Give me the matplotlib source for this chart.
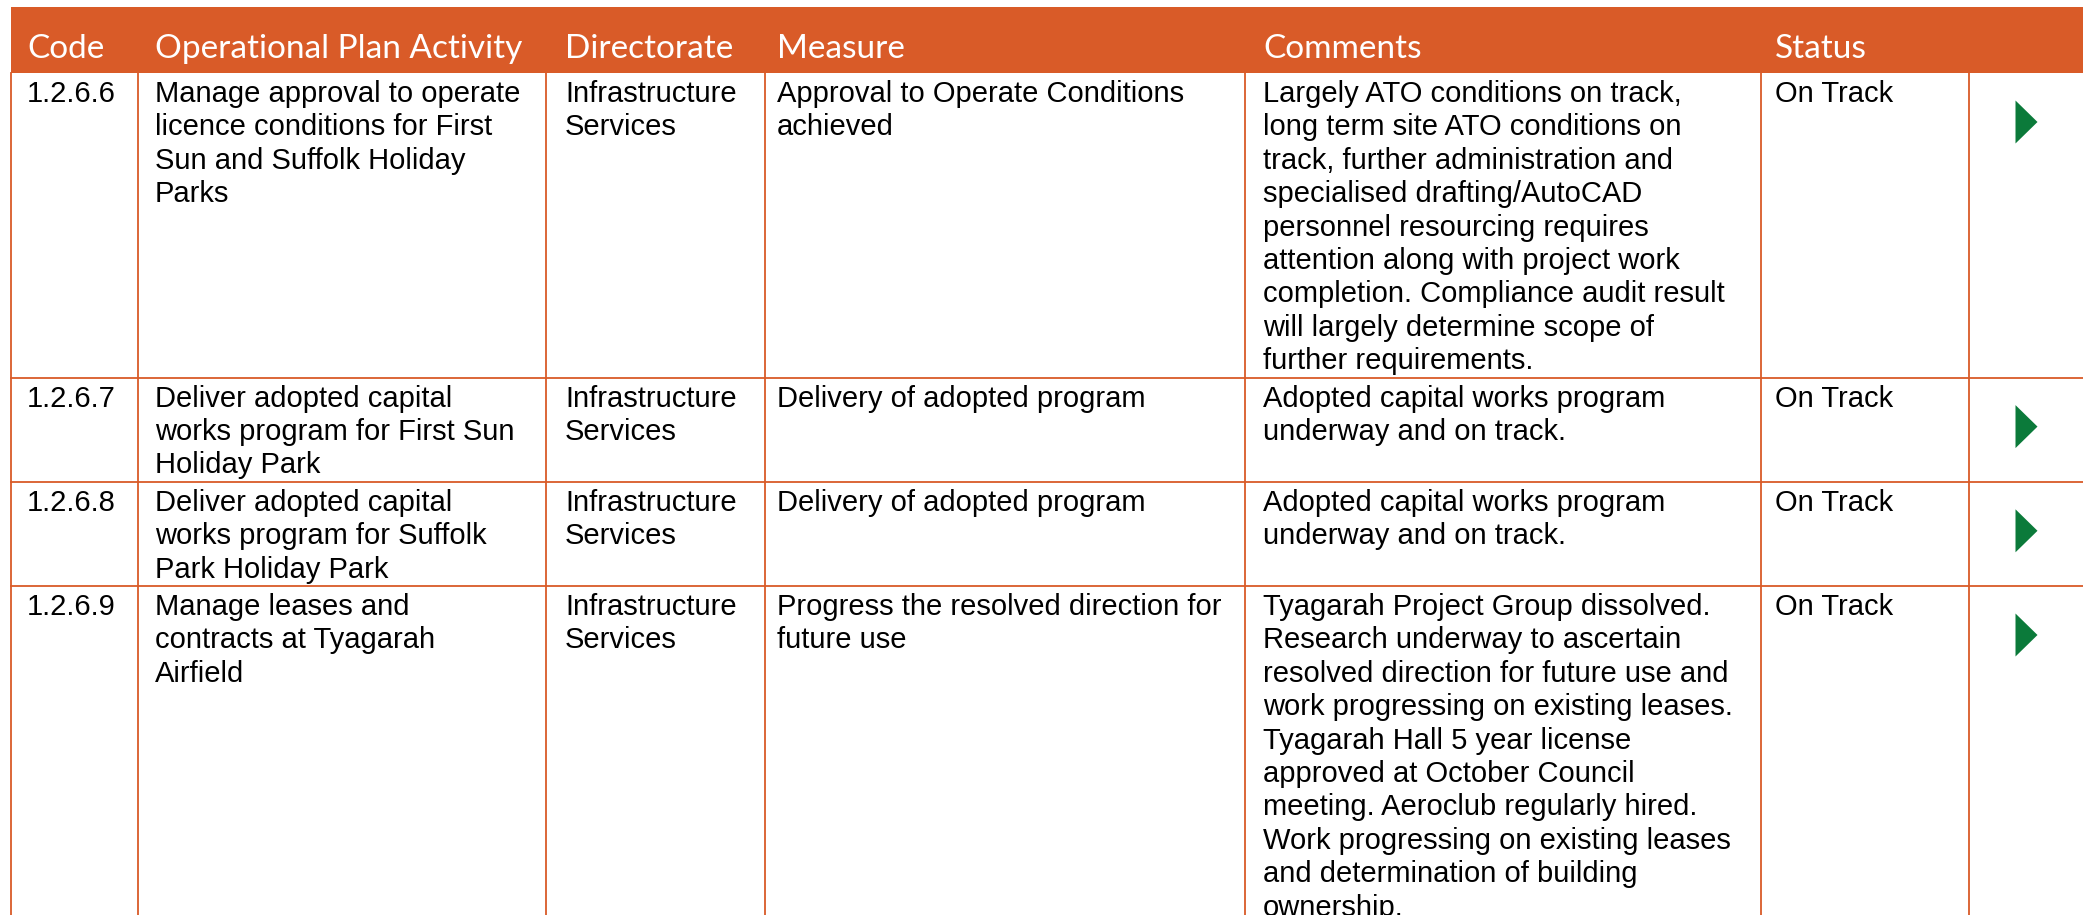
import matplotlib
matplotlib.use('Agg')
import matplotlib.pyplot as plt
from matplotlib.patches import Rectangle, Polygon

# table content
headers = ['Code', 'Operational Plan Activity', 'Directorate', 'Measure', 'Comments', 'Status']
codes = ['1.2.6.6', '1.2.6.7', '1.2.6.8', '1.2.6.9']
activities = [
    'Manage approval to operate\nlicence conditions for First\nSun and Suffolk Holiday\nParks',
    'Deliver adopted capital\nworks program for First Sun\nHoliday Park',
    'Deliver adopted capital\nworks program for Suffolk\nPark Holiday Park',
    'Manage leases and\ncontracts at Tyagarah\nAirfield',
]
directorates = ['Infrastructure\nServices'] * 4
measures = [
    'Approval to Operate Conditions\nachieved',
    'Delivery of adopted program',
    'Delivery of adopted program',
    'Progress the resolved direction for\nfuture use',
]
comments = [
    'Largely ATO conditions on track,\nlong term site ATO conditions on\ntrack, further administration and\n'
    'specialised drafting/AutoCAD\npersonnel resourcing requires\nattention along with project work\n'
    'completion. Compliance audit result\nwill largely determine scope of\nfurther requirements.',
    'Adopted capital works program\nunderway and on track.',
    'Adopted capital works program\nunderway and on track.',
    'Tyagarah Project Group dissolved.\nResearch underway to ascertain\nresolved direction for future use and\n'
    'work progressing on existing leases.\nTyagarah Hall 5 year license\napproved at October Council\n'
    'meeting. Aeroclub regularly hired.\nWork progressing on existing leases\nand determination of building\nownership.',
]
statuses = ['On Track'] * 4

ORANGE = '#d95b28'
GREEN = '#0b7a3a'
W, H = 2083, 915

col_edges = [11, 138, 546, 765, 1245, 1761, 1969, W]
text_pad = [16, 17, 19, 12, 18, 14]
header_top, header_bot = 7, 73
line_h = 33.4

fig = plt.figure(figsize=(W / 100, H / 100), dpi=100)
ax = fig.add_axes([0, 0, 1, 1])
ax.set_xlim(0, W)
ax.set_ylim(H, 0)
ax.axis('off')

# header band
ax.add_patch(Rectangle((col_edges[0], header_top), W - col_edges[0], header_bot - header_top,
                       facecolor=ORANGE, edgecolor='none'))
for i, h in enumerate(headers):
    ax.text(col_edges[i] + text_pad[i], 58, h, color='white',
            fontsize=24, family='Lato', fontweight='normal', va='baseline', ha='left')

# rows
columns = [codes, activities, directorates, measures, comments, statuses]
y = header_bot
row_tops = []
for r in range(len(codes)):
    n_lines = max(col[r].count('\n') + 1 for col in columns)
    row_h = n_lines * line_h + 4
    row_tops.append(y)
    for c, col in enumerate(columns):
        for k, line in enumerate(col[r].split('\n')):
            ax.text(col_edges[c] + text_pad[c], y + 29 + k * line_h, line, color='black',
                    fontsize=21, family='Liberation Sans', va='baseline', ha='left')
    # status arrow
    cx, cy = (col_edges[6] + W) / 2 + 0.5, y + 49
    ax.add_patch(Polygon([[cx - 11, cy - 21.5], [cx - 11, cy + 21.5], [cx + 11, cy]],
                         closed=True, facecolor=GREEN, edgecolor='none'))
    y += row_h

# grid lines
for t in row_tops[1:]:
    ax.plot([col_edges[0], W], [t, t], color=ORANGE, lw=1.3)
for xe in col_edges[:-1]:
    ax.plot([xe, xe], [header_bot, H], color=ORANGE, lw=1.3)

fig.savefig('out.png', dpi=100)
